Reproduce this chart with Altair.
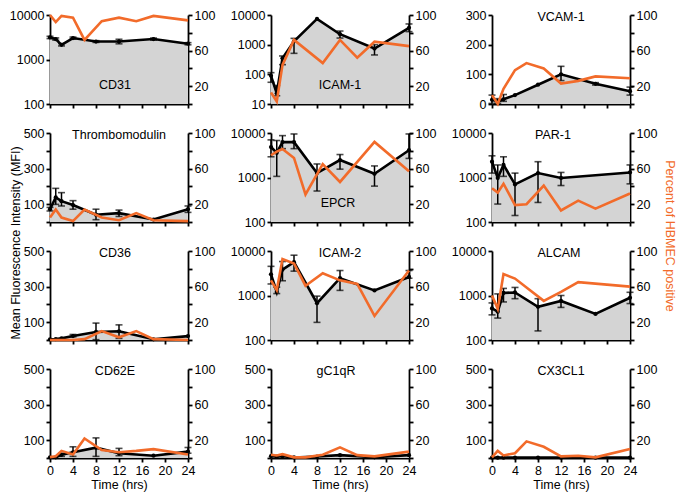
import altair as alt
import pandas as pd

ORANGE = "#F26B2A"
FILL = "#D4D4D4"
FONT = "Liberation Sans"
FS = 12.5

W, H = 138, 89

X_TICKS = [0, 4, 8, 12, 16, 20, 24]
PCT_TICKS = [0, 20, 40, 60, 80, 100]
PCT_LABELED = [20, 60, 100]
LOG_TICKS_2 = [100, 1000, 10000]
LOG_TICKS_1 = [10, 100, 1000, 10000]
LIN_TICKS_500 = [0, 100, 200, 300, 400, 500]
LIN_LABELS_500 = [100, 300, 500]
LIN_TICKS_300 = [0, 100, 200, 300]

Y_LEFT_TITLE = "Mean Fluorescence Intensity (MFI)"
Y_RIGHT_TITLE = "Percent of HBMEC positive"
X_TITLE = "Time (hrs)"

# time points (hrs)
BT = [0, 1, 2, 4, 8, 12, 18, 24]
OT = [0, 1, 2, 4, 6, 9, 12, 15, 18, 24]

# ---- CD31
CD31_MFI = [3130, 2880, 2140, 3030, 2530, 2530, 2880, 2260]
CD31_LO = [2950, 2720, 2020, 2880, 2420, 2250, 2740, 2140]
CD31_HI = [3320, 3050, 2270, 3190, 2650, 2850, 3030, 2390]
CD31_PCT = [100, 92, 99, 97, 72, 93, 97, 93, 99, 94]
# ---- ICAM-1
ICAM1_MFI = [89, 23, 350, 1300, 7400, 2250, 740, 3700]
ICAM1_LO = [54, 19, 212, 510, 7400, 1670, 450, 2750]
ICAM1_HI = [114, 42, 416, 1630, 7400, 2880, 1000, 4990]
ICAM1_OT = [0, 1, 2, 4, 9, 12, 15, 18, 24]
ICAM1_PCT = [13, 3, 44, 72, 46, 72, 52, 70, 65]
# ---- VCAM-1
VCAM1_MFI = [14, 9, 16, 30, 65, 100, 68, 43]
VCAM1_LO = [2, 2, 9, 30, 65, 79, 64, 30]
VCAM1_HI = [30, 18, 32, 30, 65, 127, 72, 57]
VCAM1_PCT = [10, 0, 17, 38, 46, 40, 23, 26, 31, 29]
# ---- Thrombomodulin
THBD_MFI = [72, 138, 117, 95, 41, 50, 14, 72]
THBD_LO = [62, 99, 90, 72, 13, 31, 14, 54]
THBD_HI = [82, 189, 165, 120, 72, 67, 14, 90]
THBD_PCT = [5, 14, 5, 1, 14, 5, 2, 10, 2, 1]
# ---- EPCR
EPCR_MFI = [4840, 3580, 6240, 6240, 1260, 2470, 1210, 4100]
EPCR_LO = [2920, 1060, 4450, 4450, 497, 1540, 640, 2685]
EPCR_HI = [7010, 6780, 8730, 9510, 2015, 3280, 1820, 9510]
EPCR_OT = [0, 1, 2, 4, 6, 9, 12, 18, 24]
EPCR_PCT = [75, 79, 82, 72, 31, 65, 45, 90, 57]
# ---- PAR-1
PAR1_BT = [0, 1, 2, 4, 8, 12, 24]
PAR1_MFI = [2270, 975, 1920, 700, 1260, 975, 1300]
PAR1_LO = [1255, 253, 1060, 140, 275, 660, 720]
PAR1_HI = [3070, 1915, 2920, 1255, 2265, 1300, 1915]
PAR1_PCT = [38, 33, 43, 19, 20, 41, 13, 24, 15, 32]
# ---- CD36
CD36_MFI = [4, 5, 9, 22, 45, 49, 4, 22]
CD36_LO = [4, 5, 9, 18, 2, 9, 4, 22]
CD36_HI = [4, 5, 9, 31, 95, 85, 4, 22]
CD36_PCT = [0, 0, 0, 0, 1, 10, 3, 10, 1, 0]
# ---- ICAM-2
ICAM2_MFI = [2990, 1200, 3830, 5600, 670, 2450, 1300, 2610]
ICAM2_LO = [1815, 1105, 2145, 3525, 249, 1303, 1300, 2445]
ICAM2_HI = [4520, 1540, 5800, 8050, 968, 3640, 1300, 3640]
ICAM2_PCT = [67, 56, 91, 86, 61, 75, 67, 63, 27, 78]
# ---- ALCAM
ALCAM_MFI = [513, 434, 1143, 1170, 557, 753, 386, 890]
ALCAM_LO = [367, 311, 716, 848, 160, 540, 386, 659]
ALCAM_HI = [681, 1087, 1443, 1517, 848, 1000, 386, 1180]
ALCAM_OT = [0, 1, 2, 4, 6, 9, 12, 15, 24]
ALCAM_PCT = [50, 35, 74, 69, 59, 44, 54, 65, 60]
# ---- CD62E
CD62E_MFI = [4, 4, 18, 32, 58, 27, 13, 36]
CD62E_LO = [4, 4, 9, 9, 9, 13, 13, 27]
CD62E_HI = [4, 4, 27, 63, 113, 54, 13, 59]
CD62E_PCT = [1, 2, 8, 4, 22, 9, 6.5, 8, 10, 4]
# ---- gC1qR
GC1QR_MFI = [10, 8, 10, 3, 8, 16, 4, 16]
GC1QR_PCT = [3.6, 2.9, 4.3, 0.7, 0.7, 3.6, 11.9, 3.2, 1.8, 7.2]
# ---- CX3CL1
CX3CL1_MFI = [2, 2, 2, 2, 2, 2, 2, 2]
CX3CL1_PCT = [0.7, 8, 2.9, 5.4, 18.7, 12.6, 1.8, 2.5, 0.7, 10]

# name, scale, domain, ticks, labelled ticks, title pos, title dx, black t, mfi, lo, hi, orange t, pct
PANELS = [
    ("CD31", "log", [100, 10000], LOG_TICKS_2, LOG_TICKS_2, "bottom", -4, BT, CD31_MFI, CD31_LO, CD31_HI, OT, CD31_PCT),
    ("ICAM-1", "log", [10, 10000], LOG_TICKS_1, LOG_TICKS_1, "bottom", 0, BT, ICAM1_MFI, ICAM1_LO, ICAM1_HI, ICAM1_OT, ICAM1_PCT),
    ("VCAM-1", "linear", [0, 300], LIN_TICKS_300, LIN_TICKS_300, "top", 0, BT, VCAM1_MFI, VCAM1_LO, VCAM1_HI, OT, VCAM1_PCT),
    ("Thrombomodulin", "linear", [0, 500], LIN_TICKS_500, LIN_LABELS_500, "top", 0, BT, THBD_MFI, THBD_LO, THBD_HI, OT, THBD_PCT),
    ("EPCR", "log", [100, 10000], LOG_TICKS_2, LOG_TICKS_2, "bottom", -2, BT, EPCR_MFI, EPCR_LO, EPCR_HI, EPCR_OT, EPCR_PCT),
    ("PAR-1", "log", [100, 10000], LOG_TICKS_2, LOG_TICKS_2, "top", -8, PAR1_BT, PAR1_MFI, PAR1_LO, PAR1_HI, OT, PAR1_PCT),
    ("CD36", "linear", [0, 500], LIN_TICKS_500, LIN_LABELS_500, "top", -4, BT, CD36_MFI, CD36_LO, CD36_HI, OT, CD36_PCT),
    ("ICAM-2", "log", [100, 10000], LOG_TICKS_2, LOG_TICKS_2, "top", 0, BT, ICAM2_MFI, ICAM2_LO, ICAM2_HI, OT, ICAM2_PCT),
    ("ALCAM", "log", [100, 10000], LOG_TICKS_2, LOG_TICKS_2, "top", -2, BT, ALCAM_MFI, ALCAM_LO, ALCAM_HI, ALCAM_OT, ALCAM_PCT),
    ("CD62E", "linear", [0, 500], LIN_TICKS_500, LIN_LABELS_500, "top", -4, BT, CD62E_MFI, CD62E_LO, CD62E_HI, OT, CD62E_PCT),
    ("gC1qR", "linear", [0, 500], LIN_TICKS_500, LIN_LABELS_500, "top", -4, BT, GC1QR_MFI, GC1QR_MFI, GC1QR_MFI, OT, GC1QR_PCT),
    ("CX3CL1", "linear", [0, 500], LIN_TICKS_500, LIN_LABELS_500, "top", 0, BT, CX3CL1_MFI, CX3CL1_MFI, CX3CL1_MFI, OT, CX3CL1_PCT),
]


def text_layer(label, x, y, **kw):
    return alt.Chart(pd.DataFrame({"label": [label]})).mark_text(
        font=FONT, fontSize=FS, align="center", baseline="middle", **kw
    ).encode(text="label:N", x=alt.value(x), y=alt.value(y))


def make_panel(idx, spec):
    (name, stype, dom, lt, ll, tpos, tdx, bt, mfi, lo, hi, ot, pct) = spec
    row = idx // 3
    bottom = row == 3
    bdf = pd.DataFrame({"t": bt, "mfi": mfi, "lo": lo, "hi": hi})
    edf = bdf[bdf["hi"] > bdf["lo"]]
    odf = pd.DataFrame({"t": ot, "pct": pct})

    xs = alt.Scale(domain=[0, 24], nice=False, zero=False)
    if bottom:
        xax = alt.Axis(values=X_TICKS, title=X_TITLE, labels=True, format="d")
    else:
        xax = alt.Axis(values=X_TICKS, title=None, labels=False)
    x = alt.X("t:Q", scale=xs, axis=xax)

    if stype == "log":
        ys = alt.Scale(type="log", domain=dom, nice=False)
        yax = alt.Axis(orient="left", values=lt, format="d", title=None)
    else:
        ys = alt.Scale(type="linear", domain=dom, nice=False, zero=True)
        yax = alt.Axis(orient="left", values=lt, format="d", title=None,
                       labelExpr=f"indexof({ll}, datum.value) >= 0 ? datum.label : ''")

    def Y(field):
        return alt.Y(f"{field}:Q", scale=ys, axis=yax, stack=None)

    layers = [
        alt.Chart(bdf).mark_area(color=FILL, opacity=1).encode(
            x=x, y=Y("mfi"), y2=alt.Y2(datum=dom[0]))
    ]
    if len(edf) > 0:
        layers.append(alt.Chart(edf).mark_rule(color="black", strokeWidth=1.5).encode(x=x, y=Y("lo"), y2="hi:Q"))
        layers.append(alt.Chart(edf).mark_tick(color="black", orient="horizontal", size=7, thickness=1.6).encode(x=x, y=Y("lo")))
        layers.append(alt.Chart(edf).mark_tick(color="black", orient="horizontal", size=7, thickness=1.6).encode(x=x, y=Y("hi")))
    layers.append(alt.Chart(bdf).mark_line(color="black", strokeWidth=2.6).encode(x=x, y=Y("mfi")))
    layers.append(alt.Chart(bdf).mark_circle(color="black", size=18, opacity=1).encode(x=x, y=Y("mfi")))
    left = alt.layer(*layers)

    orange = alt.Chart(odf).mark_line(color=ORANGE, strokeWidth=2.6).encode(
        x=x,
        y=alt.Y("pct:Q", scale=alt.Scale(domain=[0, 100], nice=False, zero=True),
                axis=alt.Axis(orient="right", values=PCT_TICKS, title=None, format="d",
                              labelExpr=f"indexof({PCT_LABELED}, datum.value) >= 0 ? datum.label : ''")),
    )

    ty = 2 if tpos == "top" else round(0.79 * H)
    outer = [left, orange, text_layer(name, W / 2 + tdx, ty, color="black")]
    if idx == 6:
        outer.append(text_layer(Y_LEFT_TITLE, -34, -8, color="black", angle=270))
    if idx == 8:
        outer.append(text_layer(Y_RIGHT_TITLE, W + 40, -15, color=ORANGE, angle=90))

    return alt.layer(*outer).resolve_scale(y="independent").properties(width=W, height=H)


panels = [make_panel(i, p) for i, p in enumerate(PANELS)]

chart = alt.concat(
    *panels, columns=3, spacing={"row": 29, "column": 83}, bounds="flush"
).properties(padding=1).configure_view(stroke=None).configure_axis(
    grid=False,
    domainColor="black",
    domainWidth=1.8,
    tickColor="black",
    tickWidth=1.8,
    tickSize=4,
    labelFont=FONT,
    labelFontSize=FS,
    labelColor="black",
    labelPadding=2,
    labelFlush=False,
    labelOverlap=False,
    titleFont=FONT,
    titleFontSize=FS,
    titleFontWeight="normal",
    titleColor="black",
    titlePadding=2,
)

chart.save("out.html", embed_options={"renderer": "svg", "actions": False})
